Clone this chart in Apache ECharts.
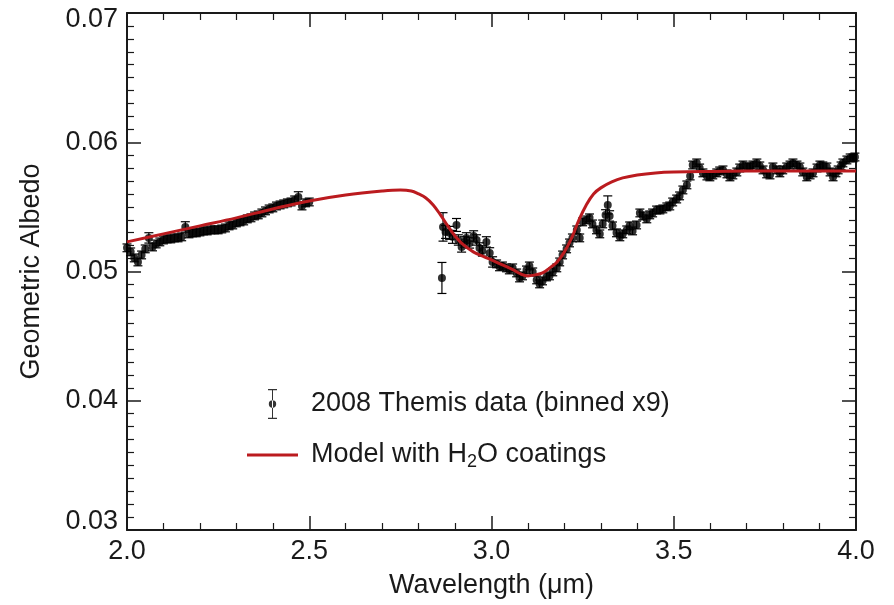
<!DOCTYPE html>
<html>
<head>
<meta charset="utf-8">
<script src="https://cdn.jsdelivr.net/npm/echarts@6/dist/echarts.min.js"></script>
<style>
  html, body { margin: 0; padding: 0; background: #fff; }
  #chart { width: 894px; height: 605px; }
</style>
</head>
<body>
<div id="chart"></div>
<script>
// axis ticks
const xTicks = [2.0, 2.5, 3.0, 3.5, 4.0];
const yTicks = [0.03, 0.04, 0.05, 0.06, 0.07];

const themisName = "2008 Themis data (binned x9)";
const modelName = "Model with H2O coatings";

// [wavelength, albedo, error] -- short-wavelength part
const themisShort = [
  [2.00, 0.05183, 0.0003], [2.01, 0.05152, 0.0003], [2.02, 0.05105, 0.0003],
  [2.03, 0.05074, 0.0003], [2.04, 0.05128, 0.0003], [2.05, 0.05175, 0.0003],
  [2.06, 0.05260, 0.0004], [2.07, 0.05190, 0.0003], [2.08, 0.05213, 0.0003],
  [2.09, 0.05229, 0.0003], [2.10, 0.05244, 0.0003], [2.11, 0.05252, 0.0003],
  [2.12, 0.05252, 0.0003], [2.13, 0.05260, 0.0003], [2.14, 0.05260, 0.0003],
  [2.15, 0.05268, 0.0003], [2.16, 0.05345, 0.0004], [2.17, 0.05291, 0.0003],
  [2.18, 0.05299, 0.0003], [2.19, 0.05299, 0.0003], [2.20, 0.05306, 0.0003],
  [2.21, 0.05314, 0.0003], [2.22, 0.05314, 0.0003], [2.23, 0.05322, 0.0003],
  [2.24, 0.05322, 0.0003], [2.25, 0.05322, 0.0003], [2.26, 0.05329, 0.0003],
  [2.27, 0.05337, 0.0003], [2.28, 0.05353, 0.0003], [2.29, 0.05360, 0.0003],
  [2.30, 0.05376, 0.0003], [2.31, 0.05384, 0.0003], [2.32, 0.05391, 0.0003],
  [2.33, 0.05407, 0.0003], [2.34, 0.05415, 0.0003], [2.35, 0.05430, 0.0003],
  [2.36, 0.05438, 0.0003], [2.37, 0.05453, 0.0003], [2.38, 0.05469, 0.0003],
  [2.39, 0.05484, 0.0003], [2.40, 0.05492, 0.0003], [2.41, 0.05507, 0.0003],
  [2.42, 0.05515, 0.0003], [2.43, 0.05523, 0.0003], [2.44, 0.05531, 0.0003],
  [2.45, 0.05538, 0.0003], [2.46, 0.05554, 0.0003], [2.47, 0.05577, 0.0004],
  [2.48, 0.05507, 0.0003], [2.49, 0.05531, 0.0003], [2.50, 0.05538, 0.0003]
];

// [wavelength, albedo, error] -- 3 micron band and beyond
const themisLong = [
  [2.864, 0.04950, 0.0012], [2.867, 0.05345, 0.0011], [2.874, 0.05306, 0.0005],
  [2.885, 0.05299, 0.0005], [2.893, 0.05268, 0.0005], [2.904, 0.05360, 0.0005],
  [2.909, 0.05244, 0.0004], [2.918, 0.05190, 0.0004], [2.926, 0.05229, 0.0004],
  [2.931, 0.05260, 0.0004], [2.940, 0.05221, 0.0004], [2.951, 0.05275, 0.0004],
  [2.959, 0.05244, 0.0004], [2.967, 0.05182, 0.0004], [2.975, 0.05159, 0.0004],
  [2.986, 0.05229, 0.0004], [2.995, 0.05144, 0.0004], [3.003, 0.05074, 0.0004],
  [3.014, 0.05059, 0.0003], [3.022, 0.05036, 0.0003], [3.030, 0.05043, 0.0003],
  [3.041, 0.05028, 0.0003], [3.049, 0.05012, 0.0003], [3.058, 0.05028, 0.0003],
  [3.069, 0.04989, 0.0003], [3.077, 0.04950, 0.0003], [3.085, 0.04966, 0.0003],
  [3.096, 0.05012, 0.0003], [3.104, 0.05043, 0.0003], [3.113, 0.04997, 0.0003],
  [3.124, 0.04935, 0.0003], [3.132, 0.04904, 0.0003], [3.140, 0.04927, 0.0003],
  [3.151, 0.04958, 0.0003], [3.159, 0.04966, 0.0003], [3.168, 0.04997, 0.0003],
  [3.179, 0.05028, 0.0003], [3.187, 0.05074, 0.0003], [3.195, 0.05128, 0.0003],
  [3.206, 0.05175, 0.0003], [3.214, 0.05221, 0.0003], [3.222, 0.05260, 0.0003],
  [3.234, 0.05322, 0.0003], [3.242, 0.05260, 0.0003], [3.250, 0.05384, 0.0003],
  [3.261, 0.05399, 0.0003], [3.269, 0.05415, 0.0003], [3.277, 0.05368, 0.0003],
  [3.288, 0.05322, 0.0003], [3.297, 0.05291, 0.0003], [3.305, 0.05368, 0.0003],
  [3.313, 0.05438, 0.0004], [3.319, 0.05515, 0.0007], [3.324, 0.05430, 0.0004],
  [3.332, 0.05353, 0.0003], [3.343, 0.05299, 0.0003], [3.352, 0.05268, 0.0003],
  [3.360, 0.05291, 0.0003], [3.371, 0.05322, 0.0003], [3.379, 0.05353, 0.0003],
  [3.387, 0.05314, 0.0003], [3.398, 0.05360, 0.0003], [3.407, 0.05453, 0.0003],
  [3.415, 0.05430, 0.0003], [3.426, 0.05407, 0.0003], [3.434, 0.05438, 0.0003],
  [3.442, 0.05453, 0.0003], [3.453, 0.05476, 0.0003], [3.462, 0.05476, 0.0003],
  [3.470, 0.05484, 0.0003], [3.481, 0.05500, 0.0003], [3.489, 0.05507, 0.0003],
  [3.497, 0.05538, 0.0003], [3.508, 0.05561, 0.0003], [3.516, 0.05585, 0.0003],
  [3.525, 0.05631, 0.0003], [3.536, 0.05670, 0.0003], [3.545, 0.05739, 0.0003],
  [3.552, 0.05824, 0.0003], [3.563, 0.05840, 0.0003], [3.571, 0.05801, 0.0003],
  [3.580, 0.05763, 0.0003], [3.591, 0.05739, 0.0003], [3.599, 0.05732, 0.0003],
  [3.607, 0.05747, 0.0003], [3.618, 0.05763, 0.0003], [3.626, 0.05778, 0.0003],
  [3.635, 0.05786, 0.0003], [3.646, 0.05755, 0.0003], [3.654, 0.05732, 0.0003],
  [3.662, 0.05747, 0.0003], [3.673, 0.05770, 0.0003], [3.681, 0.05801, 0.0003],
  [3.690, 0.05824, 0.0003], [3.701, 0.05809, 0.0003], [3.709, 0.05809, 0.0003],
  [3.717, 0.05824, 0.0003], [3.728, 0.05840, 0.0003], [3.736, 0.05817, 0.0003],
  [3.745, 0.05786, 0.0003], [3.755, 0.05755, 0.0003], [3.764, 0.05747, 0.0003],
  [3.772, 0.05809, 0.0003], [3.783, 0.05786, 0.0003], [3.791, 0.05763, 0.0003],
  [3.799, 0.05786, 0.0003], [3.810, 0.05809, 0.0003], [3.819, 0.05824, 0.0003],
  [3.827, 0.05840, 0.0003], [3.838, 0.05824, 0.0003], [3.846, 0.05809, 0.0003],
  [3.854, 0.05770, 0.0003], [3.865, 0.05732, 0.0003], [3.874, 0.05747, 0.0003],
  [3.882, 0.05763, 0.0003], [3.893, 0.05801, 0.0003], [3.901, 0.05824, 0.0003],
  [3.909, 0.05817, 0.0003], [3.920, 0.05809, 0.0003], [3.929, 0.05770, 0.0003],
  [3.937, 0.05732, 0.0003], [3.945, 0.05763, 0.0003], [3.951, 0.05786, 0.0003],
  [3.959, 0.05817, 0.0003], [3.964, 0.05840, 0.0003], [3.975, 0.05863, 0.0003],
  [3.984, 0.05879, 0.0003], [3.992, 0.05879, 0.0003], [3.997, 0.05886, 0.0003]
];

// model curve
const modelWl = [2.00, 2.10, 2.20, 2.30, 2.40, 2.50, 2.60, 2.70, 2.75, 2.78, 2.80, 2.82,
  2.84, 2.86, 2.88, 2.90, 2.92, 2.95, 2.98, 3.00, 3.03, 3.06, 3.08, 3.10, 3.12, 3.14,
  3.16, 3.18, 3.20, 3.22, 3.24, 3.26, 3.28, 3.30, 3.33, 3.36, 3.40, 3.45, 3.50, 3.60,
  3.80, 4.00];
const modelAlb = [0.05229, 0.05291, 0.05353, 0.05415, 0.05484, 0.05546, 0.05592, 0.05623,
  0.05631, 0.05623, 0.05600, 0.05569, 0.05515, 0.05438, 0.05353, 0.05275, 0.05213,
  0.05152, 0.05113, 0.05090, 0.05051, 0.05012, 0.04981, 0.04966, 0.04974, 0.04989,
  0.05028, 0.05074, 0.05152, 0.05260, 0.05399, 0.05515, 0.05600, 0.05647, 0.05693,
  0.05724, 0.05747, 0.05763, 0.05770, 0.05774, 0.05778, 0.05778];

const FONT = "Liberation Sans";
const FS = 27;
const INK = "#1a1a1a";
const RED = "#bb1b1f";

const themisAll = themisShort.concat(themisLong);
const modelData = modelWl.map((w, i) => [w, modelAlb[i]]);

const chart = echarts.init(document.getElementById("chart"), null, { renderer: "canvas" });

function frameAxis(extra) {
  return Object.assign({
    type: "value",
    axisLine: { show: true, onZero: false, lineStyle: { color: INK, width: 2 } },
    axisTick: { show: true, inside: true, length: 14, lineStyle: { color: INK, width: 1.5 } },
    splitLine: { show: false },
  }, extra);
}

const errorBarPath =
  "path://M0 0H9V1.2H0Z M4 0H5V30H4Z M0 28.8H9V30H0Z M0.8 15A3.7 3.7 0 1 0 8.2 15A3.7 3.7 0 1 0 0.8 15Z";

chart.setOption({
  animation: false,
  backgroundColor: "#fff",
  textStyle: { fontFamily: FONT },
  grid: { left: 127, right: 38, top: 13, bottom: 75, containLabel: false, outerBoundsMode: "none" },
  legend: {
    orient: "vertical",
    left: 247,
    top: 388,
    padding: 0,
    itemWidth: 51,
    itemHeight: 30,
    itemGap: 19,
    symbolKeepAspect: true,
    selectedMode: false,
    data: [
      { name: themisName, icon: errorBarPath, itemStyle: { color: "#000" } },
      { name: modelName, icon: "path://M0 0H51V3H0Z", itemStyle: { color: RED } },
    ],
    formatter: (name) => (name === modelName ? "Model with H{sub|2}O coatings" : name),
    textStyle: {
      fontFamily: FONT,
      fontSize: FS,
      color: INK,
      lineHeight: 32,
      padding: [0, 0, 0, 8],
      rich: {
        sub: { fontFamily: FONT, fontSize: 18, color: INK, lineHeight: 18, verticalAlign: "bottom" },
      },
    },
  },
  xAxis: [
    frameAxis({
      position: "bottom",
      min: xTicks[0],
      max: xTicks[xTicks.length - 1],
      interval: 0.5,
      minorTick: { show: true, splitNumber: 5, length: 7, lineStyle: { color: INK, width: 1.2 } },
      axisLabel: {
        show: true,
        margin: 8,
        fontFamily: FONT,
        fontSize: FS,
        color: INK,
        showMinLabel: true,
        showMaxLabel: true,
        formatter: (v) => v.toFixed(1),
      },
      name: "Wavelength (\u03bcm)",
      nameLocation: "middle",
      nameGap: 42,
      nameTextStyle: { fontFamily: FONT, fontSize: FS, color: INK },
    }),
    frameAxis({
      position: "top",
      min: xTicks[0],
      max: xTicks[xTicks.length - 1],
      interval: 0.5,
      minorTick: { show: true, splitNumber: 5, length: 7, lineStyle: { color: INK, width: 1.2 } },
      axisLabel: { show: false },
    }),
  ],
  yAxis: [
    frameAxis({
      position: "left",
      min: yTicks[0],
      max: yTicks[yTicks.length - 1],
      interval: 0.01,
      minorTick: { show: true, splitNumber: 10, length: 7, lineStyle: { color: INK, width: 1.2 } },
      axisLabel: {
        show: true,
        margin: 9,
        fontFamily: FONT,
        fontSize: FS,
        color: INK,
        showMinLabel: true,
        showMaxLabel: true,
        formatter: (v) => {
          const s = v.toFixed(2);
          if (v > 0.0695) return "{top|" + s + "}";
          if (v < 0.0305) return "{bot|" + s + "}";
          return s;
        },
        rich: {
          top: { fontFamily: FONT, fontSize: FS, color: INK, padding: [14, 0, 0, 0] },
          bot: { fontFamily: FONT, fontSize: FS, color: INK, padding: [0, 0, 16, 0] },
        },
      },
      name: "Geometric Albedo",
      nameLocation: "middle",
      nameGap: 82,
      nameRotate: 90,
      nameTextStyle: { fontFamily: FONT, fontSize: FS, color: INK },
    }),
    frameAxis({
      position: "right",
      min: yTicks[0],
      max: yTicks[yTicks.length - 1],
      interval: 0.01,
      minorTick: { show: true, splitNumber: 10, length: 7, lineStyle: { color: INK, width: 1.2 } },
      axisLabel: { show: false },
    }),
  ],
  series: [
    {
      name: "errorbars",
      type: "custom",
      xAxisIndex: 0,
      yAxisIndex: 0,
      silent: true,
      data: themisAll,
      encode: { x: 0, y: 1 },
      renderItem: (params, api) => {
        const x = api.value(0);
        const y = api.value(1);
        const e = api.value(2);
        const hi = api.coord([x, y + e]);
        const lo = api.coord([x, y - e]);
        const w = 4.5;
        const st = { stroke: "#000", lineWidth: 1.2 };
        return {
          type: "group",
          children: [
            { type: "line", shape: { x1: hi[0], y1: hi[1], x2: lo[0], y2: lo[1] }, style: st },
            { type: "line", shape: { x1: hi[0] - w, y1: hi[1], x2: hi[0] + w, y2: hi[1] }, style: st },
            { type: "line", shape: { x1: lo[0] - w, y1: lo[1], x2: lo[0] + w, y2: lo[1] }, style: st },
          ],
        };
      },
      z: 2,
    },
    {
      name: themisName,
      type: "scatter",
      xAxisIndex: 0,
      yAxisIndex: 0,
      symbol: "circle",
      symbolSize: 8,
      itemStyle: { color: "#000" },
      data: themisAll.map((d) => [d[0], d[1]]),
      z: 3,
    },
    {
      name: modelName,
      type: "line",
      xAxisIndex: 0,
      yAxisIndex: 0,
      smooth: 0.4,
      showSymbol: false,
      lineStyle: { color: RED, width: 3 },
      itemStyle: { color: RED },
      data: modelData,
      z: 4,
    },
  ],
});
</script>
</body>
</html>
